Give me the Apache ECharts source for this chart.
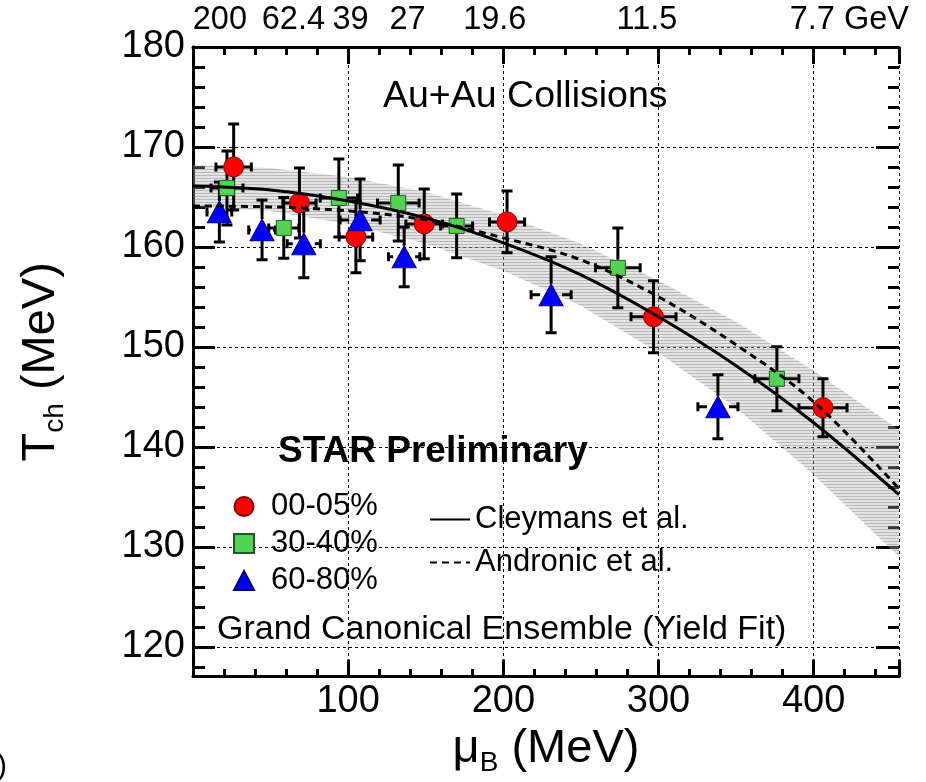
<!DOCTYPE html>
<html><head><meta charset="utf-8">
<script src="https://cdn.jsdelivr.net/npm/echarts@6/dist/echarts.min.js"></script>
<style>html,body{margin:0;padding:0;background:#fff}#c{width:926px;height:782px}</style>
</head><body><div id="c"></div>
<script>
// ---- model curves ----
const curveX     = [0, 50, 100, 150, 200, 250, 300, 350, 400, 455];
const cleymansT  = [166.1, 165.7, 164.6, 162.9, 160.4, 157.2, 153.0, 148.1, 142.4, 135.2];
const andronicT  = [164.1, 164.0, 163.6, 162.7, 160.9, 158.7, 155.0, 150.2, 144.5, 135.8];
const bandUpper  = [168.2, 167.9, 167.0, 165.5, 163.2, 160.3, 156.6, 152.5, 147.6, 141.7];
const bandLower  = [164.0, 163.6, 162.3, 160.3, 157.6, 154.1, 149.4, 143.9, 137.2, 129.0];

// ---- data points ----
const central_mu    = [26.2, 68.6, 105.0, 149.0, 202.4, 296.8, 406.0];
const central_T     = [168.0, 164.4, 161.0, 162.3, 162.5, 153.0, 143.9];
const central_muErr = [11.4, 10.7, 10.8, 11.8, 11.3, 14.5, 15.5];
const central_TErr  = [4.3, 3.5, 3.6, 3.5, 3.1, 3.6, 2.9];

const mid_mu    = [21.9, 58.5, 94.0, 132.3, 169.9, 273.8, 376.3];
const mid_T     = [165.9, 161.9, 164.9, 164.4, 162.1, 157.9, 146.8];
const mid_muErr = [10.3, 9.7, 12.0, 13.4, 10.3, 14.4, 14.2];
const mid_TErr  = [3.7, 3.05, 3.9, 3.8, 3.2, 4.0, 3.2];

const periph_mu    = [17.0, 44.5, 71.4, 107.7, 136.1, 230.8, 338.3];
const periph_T     = [163.5, 161.7, 160.3, 162.7, 159.0, 155.2, 144.0];
const periph_muErr = [8.0, 8.6, 10.7, 12.9, 10.1, 12.9, 12.9];
const periph_TErr  = [3.0, 3.0, 3.4, 4.1, 3.0, 3.8, 3.2];

// ---- ticks / labels ----
const xLabelValues = [100, 200, 300, 400];
const energyPos    = [17.3, 64.7, 101.5, 138.3, 194.5, 292.6, 423];
const energyLabels = ['200', '62.4', '39', '27', '19.6', '11.5', '7.7 GeV'];

const FONT = 'Liberation Sans, Arial, Helvetica, sans-serif';
const X_MIN = 0, X_MAX = 455, Y_MIN = 117, Y_MAX = 180;

// hatched band pattern
const pc = document.createElement('canvas');
pc.width = 4; pc.height = 3;
const pctx = pc.getContext('2d');
pctx.fillStyle = 'rgba(170,170,170,0.32)'; pctx.fillRect(0, 0, 4, 3);
pctx.fillStyle = 'rgba(120,120,120,0.40)'; pctx.fillRect(0, 1, 4, 1);

function zip(a, b, c, d) { return a.map((v, i) => [v, b[i], c[i], d[i]]); }

function errSeries(name, xs, ys, xe, ye, gap) {
  return {
    type: 'custom', name: name, xAxisIndex: 0, yAxisIndex: 0, clip: true,
    data: zip(xs, ys, xe, ye),
    encode: { x: 0, y: 1 },
    silent: true,
    renderItem: function (params, api) {
      const x = api.value(0), y = api.value(1), ex = api.value(2), ey = api.value(3);
      const c = api.coord([x, y]);
      const top = api.coord([x, y + ey])[1];
      const bot = api.coord([x, y - ey])[1];
      const l = api.coord([x - ex, y])[0];
      const r = api.coord([x + ex, y])[0];
      const cw = 5.5, chh = 4.5;
      const st = { stroke: '#000', lineWidth: 3 };
      const kids = [];
      const L = (x1, y1, x2, y2) => kids.push({ type: 'line', shape: { x1, y1, x2, y2 }, style: st });
      if (top < c[1] - gap) L(c[0], top, c[0], c[1] - gap);
      if (bot > c[1] + gap) L(c[0], c[1] + gap, c[0], bot);
      L(c[0] - cw, top, c[0] + cw, top);
      L(c[0] - cw, bot, c[0] + cw, bot);
      if (l < c[0] - gap) L(l, c[1], c[0] - gap, c[1]);
      if (r > c[0] + gap) L(c[0] + gap, c[1], r, c[1]);
      L(l, c[1] - chh, l, c[1] + chh);
      L(r, c[1] - chh, r, c[1] + chh);
      return { type: 'group', children: kids };
    }
  };
}

const axisLineStyle = { show: true, lineStyle: { color: '#000', width: 3 } };
const tickStyle = { color: '#000', width: 3 };
const dotted = { show: true, lineStyle: { color: '#000', width: 1, type: [3, 3] } };
const noLine = { show: false };
const G = { left: 193, width: 706 };

const option = {
  animation: false,
  backgroundColor: '#fff',
  textStyle: { fontFamily: FONT },
  grid: [
    Object.assign({ top: 47, height: 630 }, G),   // main
    Object.assign({ top: 47, height: 630 }, G),   // x minor ticks
    Object.assign({ top: 47, height: 600 }, G),   // y major ticks 120..180
    Object.assign({ top: 47, height: 620 }, G)    // y minor ticks 118..180
  ],
  title: [
    { text: 'Au+Au Collisions', left: 383, top: 78, padding: 0,
      textStyle: { fontFamily: FONT, fontSize: 37.5, fontWeight: 'normal', color: '#000' } },
    { text: 'STAR Preliminary', left: 278, top: 433, padding: 0,
      textStyle: { fontFamily: FONT, fontSize: 37, fontWeight: 'bold', color: '#000' } },
    { text: 'Grand Canonical Ensemble (Yield Fit)', left: 217, top: 613, padding: 0,
      textStyle: { fontFamily: FONT, fontSize: 34, fontWeight: 'normal', color: '#000' } },
    { text: ')', left: -3, top: 752, padding: 0,
      textStyle: { fontFamily: FONT, fontSize: 30, fontWeight: 'normal', color: '#000' } }
  ],
  legend: [
    { data: ['00-05%', '30-40%', '60-80%'], orient: 'vertical', left: 233, top: 491,
      itemWidth: 20, itemHeight: 19, itemGap: 6, padding: 0,
      textStyle: { fontFamily: FONT, fontSize: 31, color: '#000', padding: [0, 0, 0, 12] }, selectedMode: false },
    { data: ['Cleymans et al.', 'Andronic et al.'], orient: 'vertical', left: 429, top: 504,
      itemWidth: 40, itemHeight: 14, itemGap: 12, padding: 0, itemStyle: { opacity: 0 },
      textStyle: { fontFamily: FONT, fontSize: 31, color: '#000' }, selectedMode: false }
  ],
  xAxis: [
    // 0: main bottom (major ticks, labels, grid lines, name)
    { type: 'value', gridIndex: 0, position: 'bottom', min: X_MIN, max: X_MAX, interval: 100,
      axisLine: axisLineStyle,
      axisTick: { show: true, inside: true, length: 17, lineStyle: tickStyle },
      axisLabel: { fontSize: 38, color: '#000', margin: 6, fontFamily: FONT,
        formatter: v => (xLabelValues.indexOf(v) >= 0 ? String(v) : '') },
      splitLine: dotted,
      name: '{a|μ}{b|B}{a| (MeV)}', nameLocation: 'middle', nameGap: 37,
      nameTextStyle: { rich: {
        a: { fontSize: 47, lineHeight: 56, fontFamily: FONT, color: '#000' },
        b: { fontSize: 28, lineHeight: 28, verticalAlign: 'bottom', fontFamily: FONT, color: '#000' } } } },
    // 1: main top (major ticks + beam energy labels)
    { type: 'value', gridIndex: 0, position: 'top', min: X_MIN, max: X_MAX, interval: 100,
      axisLine: axisLineStyle,
      axisTick: { show: true, inside: true, length: 17, lineStyle: tickStyle },
      axisLabel: { customValues: energyPos, fontSize: 32.5, color: '#000', margin: 10, fontFamily: FONT,
        formatter: function (v) { const i = energyPos.indexOf(v); return i >= 0 ? energyLabels[i] : ''; } },
      splitLine: { show: false } },
    // 2,3: minor ticks bottom / top
    { type: 'value', gridIndex: 1, position: 'bottom', min: X_MIN, max: X_MAX, interval: 20,
      axisLine: noLine, axisTick: { show: true, inside: true, length: 8, lineStyle: tickStyle },
      axisLabel: { show: false }, splitLine: { show: false } },
    { type: 'value', gridIndex: 1, position: 'top', min: X_MIN, max: X_MAX, interval: 20,
      axisLine: noLine, axisTick: { show: true, inside: true, length: 8, lineStyle: tickStyle },
      axisLabel: { show: false }, splitLine: { show: false } },
    // 4,5: hidden helpers
    { type: 'value', gridIndex: 2, min: X_MIN, max: X_MAX, show: false },
    { type: 'value', gridIndex: 3, min: X_MIN, max: X_MAX, show: false }
  ],
  yAxis: [
    // 0: main left (axis line + name)
    { type: 'value', gridIndex: 0, position: 'left', min: Y_MIN, max: Y_MAX,
      axisLine: axisLineStyle, axisTick: { show: false }, axisLabel: { show: false }, splitLine: { show: false },
      name: '{a|T}{b|ch}{a| (MeV)}', nameLocation: 'middle', nameRotate: 90, nameGap: 124,
      nameTextStyle: { rich: {
        a: { fontSize: 47, lineHeight: 56, fontFamily: FONT, color: '#000' },
        b: { fontSize: 28, lineHeight: 28, verticalAlign: 'bottom', fontFamily: FONT, color: '#000' } } } },
    // 1: main right (axis line)
    { type: 'value', gridIndex: 0, position: 'right', min: Y_MIN, max: Y_MAX,
      axisLine: axisLineStyle, axisTick: { show: false }, axisLabel: { show: false }, splitLine: { show: false } },
    // 2: hidden helper for x-minor grid
    { type: 'value', gridIndex: 1, min: Y_MIN, max: Y_MAX, show: false },
    // 3,4: major ticks 120..180, labels and grid lines
    { type: 'value', gridIndex: 2, position: 'left', min: 120, max: 180, interval: 10,
      axisLine: noLine, axisTick: { show: true, inside: true, length: 22, lineStyle: tickStyle },
      axisLabel: { fontSize: 38, color: '#000', margin: 8, fontFamily: FONT },
      splitLine: dotted },
    { type: 'value', gridIndex: 2, position: 'right', min: 120, max: 180, interval: 10,
      axisLine: noLine, axisTick: { show: true, inside: true, length: 23, lineStyle: tickStyle },
      axisLabel: { show: false }, splitLine: { show: false } },
    // 5,6: minor ticks 118..180 step 2
    { type: 'value', gridIndex: 3, position: 'left', min: 118, max: 180, interval: 2,
      axisLine: noLine, axisTick: { show: true, inside: true, length: 12, lineStyle: tickStyle },
      axisLabel: { show: false }, splitLine: { show: false } },
    { type: 'value', gridIndex: 3, position: 'right', min: 118, max: 180, interval: 2,
      axisLine: noLine, axisTick: { show: true, inside: true, length: 11, lineStyle: tickStyle },
      axisLabel: { show: false }, splitLine: { show: false } }
  ],
  series: [
    { type: 'custom', name: 'band', xAxisIndex: 0, yAxisIndex: 0, clip: true, silent: true,
      data: curveX.map((x, i) => [x, bandUpper[i], bandLower[i]]),
      encode: { x: 0, y: [1, 2] },
      renderItem: function (params, api) {
        if (params.dataIndex !== 0) return null;
        const pts = [];
        for (let i = 0; i < curveX.length; i++) pts.push(api.coord([curveX[i], bandUpper[i]]));
        for (let i = curveX.length - 1; i >= 0; i--) pts.push(api.coord([curveX[i], bandLower[i]]));
        return { type: 'polygon', shape: { points: pts },
          style: { fill: { image: pc, repeat: 'repeat' }, stroke: null } };
      } },
    { type: 'line', name: 'Cleymans et al.', xAxisIndex: 0, yAxisIndex: 0,
      data: curveX.map((x, i) => [x, cleymansT[i]]), smooth: 0.35, showSymbol: false, symbol: 'none',
      lineStyle: { color: '#000', width: 3, type: 'solid' }, itemStyle: { color: '#000', opacity: 0 } },
    { type: 'line', name: 'Andronic et al.', xAxisIndex: 0, yAxisIndex: 0,
      data: curveX.map((x, i) => [x, andronicT[i]]), smooth: 0.35, showSymbol: false, symbol: 'none',
      lineStyle: { color: '#000', width: 3, type: [7, 5] }, itemStyle: { color: '#000', opacity: 0 } },
    errSeries('err1', central_mu, central_T, central_muErr, central_TErr, 10),
    { type: 'scatter', name: '00-05%', xAxisIndex: 0, yAxisIndex: 0,
      data: central_mu.map((x, i) => [x, central_T[i]]),
      symbol: 'circle', symbolSize: 20,
      itemStyle: { color: '#ff0000', borderColor: '#8a0000', borderWidth: 1, opacity: 1 } },
    errSeries('err2', mid_mu, mid_T, mid_muErr, mid_TErr, 8),
    { type: 'scatter', name: '30-40%', xAxisIndex: 0, yAxisIndex: 0,
      data: mid_mu.map((x, i) => [x, mid_T[i]]),
      symbol: 'rect', symbolSize: 15,
      itemStyle: { color: '#52d452', borderColor: '#1e5a1e', borderWidth: 1, opacity: 1 } },
    errSeries('err3', periph_mu, periph_T, periph_muErr, periph_TErr, 11),
    { type: 'scatter', name: '60-80%', xAxisIndex: 0, yAxisIndex: 0,
      data: periph_mu.map((x, i) => [x, periph_T[i]]),
      symbol: 'triangle', symbolSize: [24, 22],
      itemStyle: { color: '#0000ff', borderColor: '#00007a', borderWidth: 1, opacity: 1 } }
  ]
};

const chart = echarts.init(document.getElementById('c'), null, { renderer: 'canvas' });
chart.setOption(option);
</script>
</body></html>
